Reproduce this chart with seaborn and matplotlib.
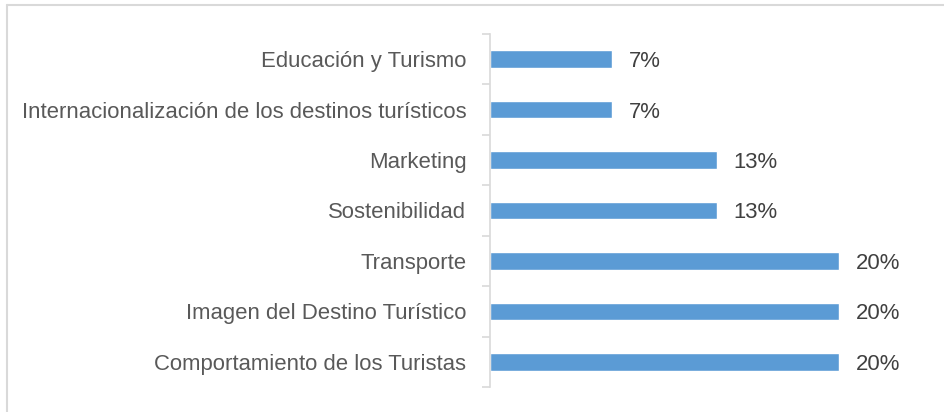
import matplotlib
matplotlib.use("Agg")
import matplotlib.pyplot as plt
import seaborn as sns
import pandas as pd
from matplotlib.lines import Line2D

categories = [
    "Educación y Turismo",
    "Internacionalización de los destinos turísticos",
    "Marketing",
    "Sostenibilidad",
    "Transporte",
    "Imagen del Destino Turístico",
    "Comportamiento de los Turistas",
]
values = [7, 7, 13, 13, 20, 20, 20]
value_labels = ["7%", "7%", "13%", "13%", "20%", "20%", "20%"]

sns.set_style("white")
plt.rcParams["font.family"] = ["Liberation Sans", "DejaVu Sans"]

df = pd.DataFrame({"cat": categories, "val": values})

fig = plt.figure(figsize=(9.44, 4.12), dpi=100)
ax = fig.add_axes([0.519, 0.0607, 0.444, 0.8568])

sns.barplot(data=df, y="cat", x="val", orient="h", color="#5B9BD5",
            saturation=1, width=0.35, ax=ax)

ax.set_xlim(0, 24)
ax.set_ylim(len(categories) - 0.5, -0.5)
ax.set_xlabel("")
ax.set_ylabel("")
ax.set_xticks([])

for s in ["top", "right", "bottom"]:
    ax.spines[s].set_visible(False)
ax.spines["left"].set_color("#D9D9D9")
ax.spines["left"].set_linewidth(1.2)

ax.tick_params(axis="y", which="major", left=False, length=0, pad=17,
               labelsize=15.9, labelcolor="#595959")
ax.set_yticks([i - 0.5 for i in range(len(categories) + 1)], minor=True)
ax.tick_params(axis="y", which="minor", left=True, length=6, width=1.2,
               color="#D9D9D9", direction="out")

texts = ax.bar_label(ax.containers[0], labels=value_labels, padding=12,
                     fontsize=15.9, color="#404040")
for t in texts:
    t.set_va("center_baseline")

# outer chart border (top and left edges visible)
fig.add_artist(Line2D([7 / 944, 1.0], [1 - 5 / 412, 1 - 5 / 412],
                      transform=fig.transFigure, color="#D9D9D9", lw=1.5))
fig.add_artist(Line2D([7 / 944, 7 / 944], [1 - 5 / 412, 0.0],
                      transform=fig.transFigure, color="#D9D9D9", lw=1.5))

fig.savefig("out.png", dpi=100)
